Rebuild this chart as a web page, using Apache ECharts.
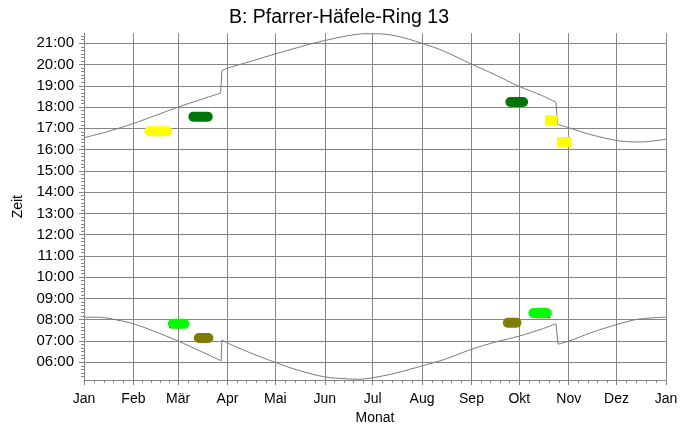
<!DOCTYPE html>
<html><head><meta charset="utf-8">
<script src="https://cdn.jsdelivr.net/npm/echarts@6/dist/echarts.min.js"></script>
<style>html,body{margin:0;background:#fff}#c{width:695px;height:430px}</style>
</head><body><div id="c"></div>
<script>
// x axis: day of year, labelled at the first day of each month
const monthNames = ['Jan','Feb','Mär','Apr','Mai','Jun','Jul','Aug','Sep','Okt','Nov','Dez','Jan'];
const monthStartDays = [0,31,59,90,120,151,181,212,243,273,304,334,365];
// y axis: time of day in hours
const hourTickValues = [6,7,8,9,10,11,12,13,14,15,16,17,18,19,20,21];
const hourTickLabels = ['06:00','07:00','08:00','09:00','10:00','11:00','12:00','13:00','14:00','15:00','16:00','17:00','18:00','19:00','20:00','21:00'];

// sunrise (day of year, hour)
const sunriseDays  = [0, 11, 20.5, 31, 43.5, 59, 72.7, 86, 86.5, 90.5, 104, 120, 134, 151, 165, 172, 181, 195, 212, 226, 243, 258, 273, 287, 296, 297.3, 304, 318, 334, 348, 365];
const sunriseHours = [8.12, 8.11, 7.99, 7.81, 7.47, 7.0, 6.53, 6.07, 7.05, 6.89, 6.45, 5.99, 5.63, 5.31, 5.22, 5.2, 5.27, 5.48, 5.83, 6.13, 6.61, 6.95, 7.23, 7.56, 7.81, 6.85, 6.99, 7.39, 7.77, 8.03, 8.12];

// sunset (day of year, hour)
const sunsetDays  = [0, 14, 31, 45, 59, 73, 85.7, 86.5, 90, 104, 120, 134, 143.6, 151, 165, 176, 183, 195, 212, 226, 243, 257, 273, 287, 296, 297, 304, 318, 334, 345, 352, 365];
const sunsetHours = [16.56, 16.83, 17.23, 17.61, 18.0, 18.35, 18.66, 19.72, 19.83, 20.14, 20.5, 20.8, 21.0, 21.13, 21.35, 21.45, 21.45, 21.36, 21.0, 20.62, 20.02, 19.55, 18.97, 18.55, 18.22, 17.19, 17.03, 16.7, 16.43, 16.36, 16.37, 16.49];

// shadow periods: first day, last day, time of day
const periodColors = ['#ffff00','#00760a','#00760a','#ffff00','#ffff00','#00ff00','#807c00','#807c00','#00ff00'];
const periodStart  = [41, 68.6, 267.4, 289, 296.5, 55.7, 72, 265.8, 281.8];
const periodEnd    = [52.2, 77.6, 275.4, 297, 305.5, 63, 78, 271.2, 290.2];
const periodHour   = [16.86, 17.55, 18.24, 17.38, 16.36, 7.81, 7.14, 7.86, 8.31];
const periodRound  = [true, true, true, false, false, true, true, true, true];
// thin dark red traces under the light green periods
const traceStart = [53.3, 283.5];
const traceEnd   = [60.8, 292.3];
const traceHour  = [7.64, 8.11];

const FONT = 'Liberation Sans, Arial, sans-serif';
const GRID = '#858585';
const CURVE = '#7a7a7a';

// Split a curve at the clock changes (a step within about one day) so the
// smooth parts stay smooth and the steps stay straight.
function curveSeries(name, xs, ys) {
  const out = [];
  let seg = [[xs[0], ys[0]]];
  for (let i = 1; i < xs.length; i++) {
    if (xs[i] - xs[i - 1] <= 1.5) {
      out.push(seg);
      out.push([[xs[i - 1], ys[i - 1]], [xs[i], ys[i]]]);
      seg = [[xs[i], ys[i]]];
    } else {
      seg.push([xs[i], ys[i]]);
    }
  }
  out.push(seg);
  return out.map(d => ({
    type: 'line', name: name, xAxisIndex: 0, yAxisIndex: 0, symbol: 'none',
    smooth: d.length > 2 ? 0.3 : false, data: d,
    lineStyle: { color: CURVE, width: 1 }, z: 1
  }));
}

// minor tick positions: 10 minutes on y, five steps per month on x
const yMinor = [];
for (let m = 5 * 60 + 20; m <= 21 * 60 + 20; m += 10) if (m % 60) yMinor.push(m / 60);
const xMinor = [];
for (let i = 0; i < 12; i++) {
  const a = monthStartDays[i], b = monthStartDays[i + 1];
  for (let k = 1; k < 5; k++) xMinor.push(a + (b - a) * k / 5);
}

const series = [];
traceStart.forEach((s, i) => series.push({
  type: 'line', xAxisIndex: 0, yAxisIndex: 0, symbol: 'none', silent: true,
  data: [[s, traceHour[i]], [traceEnd[i], traceHour[i]]],
  lineStyle: { color: '#a00000', width: 2 }
}));
periodStart.forEach((s, i) => series.push({
  type: 'line', xAxisIndex: 0, yAxisIndex: 0, symbol: 'none', silent: true,
  data: [[s, periodHour[i]], [periodEnd[i], periodHour[i]]],
  lineStyle: { color: periodColors[i], width: 10, cap: periodRound[i] ? 'round' : 'butt' }
}));
series.push(...curveSeries('Sonnenaufgang', sunriseDays, sunriseHours));
series.push(...curveSeries('Sonnenuntergang', sunsetDays, sunsetHours));

const chart = echarts.init(document.getElementById('c'), null, { renderer: 'canvas' });
chart.setOption({
  animation: false,
  backgroundColor: '#fff',
  title: {
    text: 'B: Pfarrer-Häfele-Ring 13', left: 224, top: 3,
    textStyle: { fontFamily: FONT, fontSize: 19.5, fontWeight: 'normal', color: '#000' }
  },
  grid: { left: 84, right: 29, top: 33.3, bottom: 47.3, containLabel: false },
  xAxis: [{
    type: 'value', min: 0, max: 365,
    name: 'Monat', nameLocation: 'middle', nameGap: 30,
    nameTextStyle: { fontFamily: FONT, fontSize: 14, color: '#000' },
    axisLine: { lineStyle: { color: GRID, width: 1 } },
    axisTick: { customValues: monthStartDays, length: 5, lineStyle: { color: GRID } },
    axisLabel: {
      customValues: monthStartDays, margin: 12,
      fontFamily: FONT, fontSize: 14, color: '#000',
      formatter: v => monthNames[monthStartDays.indexOf(v)]
    },
    splitLine: { show: true, lineStyle: { color: GRID, width: 1 } }
  }, {
    type: 'value', min: 0, max: 365, position: 'bottom',
    axisLine: { show: false },
    axisTick: { customValues: xMinor, length: 3, lineStyle: { color: GRID } },
    axisLabel: { show: false }, splitLine: { show: false }
  }],
  yAxis: [{
    type: 'value', min: 5.16, max: 21.47,
    name: 'Zeit', nameLocation: 'middle', nameGap: 56, nameRotate: 90,
    nameTextStyle: { fontFamily: FONT, fontSize: 14, color: '#000' },
    axisLine: { show: true, lineStyle: { color: GRID, width: 1 } },
    axisTick: { customValues: hourTickValues, length: 5, lineStyle: { color: GRID } },
    axisLabel: {
      customValues: hourTickValues, margin: 10,
      fontFamily: FONT, fontSize: 15, color: '#000',
      formatter: v => hourTickLabels[hourTickValues.indexOf(Math.round(v))]
    },
    splitLine: { show: true, lineStyle: { color: GRID, width: 1 } }
  }, {
    type: 'value', min: 5.16, max: 21.47, position: 'left',
    axisLine: { show: false },
    axisTick: { customValues: yMinor, length: 3, lineStyle: { color: GRID } },
    axisLabel: { show: false }, splitLine: { show: false }
  }],
  series: series
});
</script>
</body></html>
